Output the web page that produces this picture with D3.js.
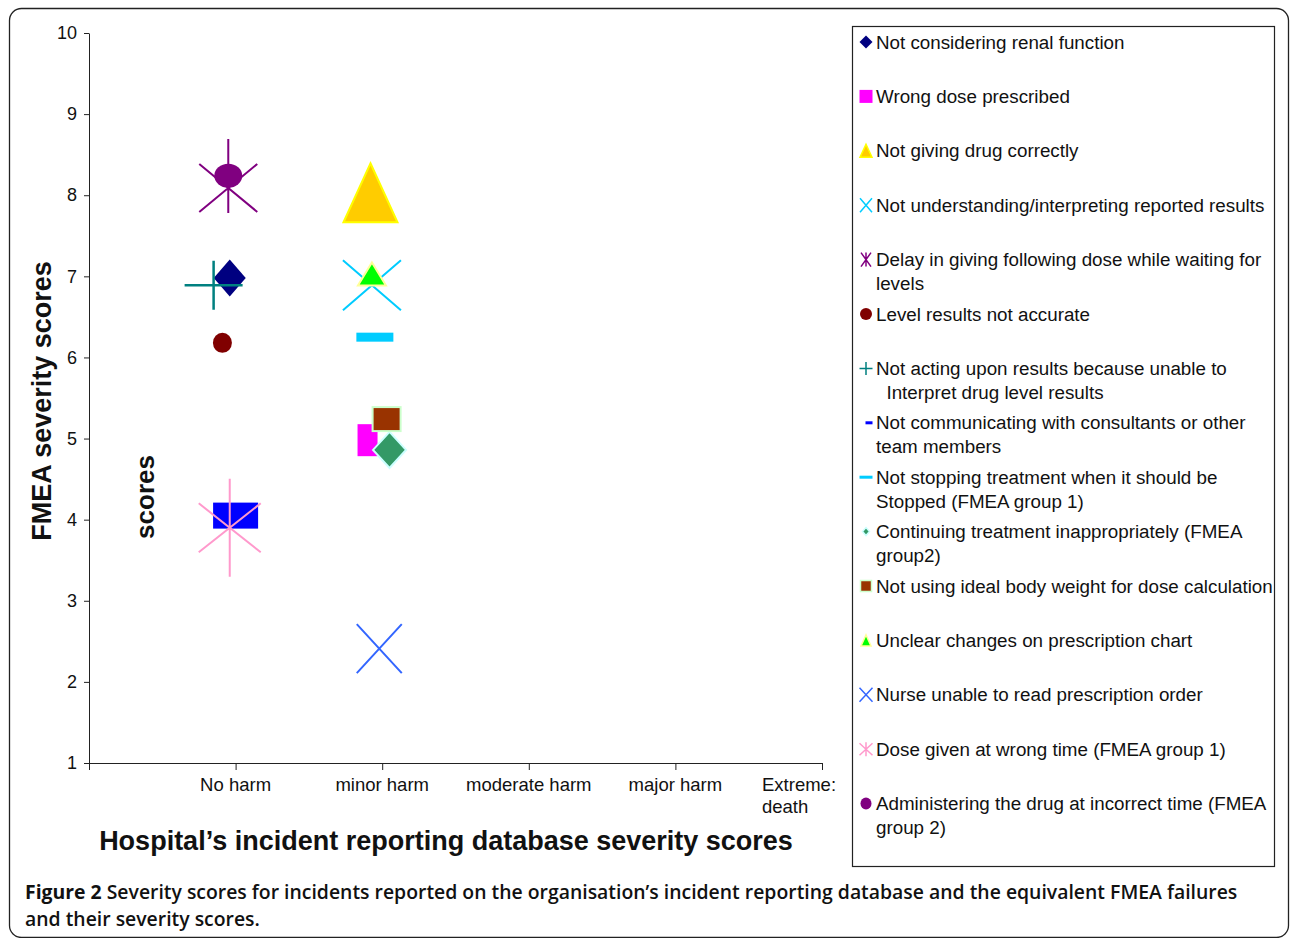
<!DOCTYPE html>
<html><head><meta charset="utf-8">
<script src="https://cdn.jsdelivr.net/npm/d3@7"></script>
<style>
html,body{margin:0;padding:0;background:#fff;}
svg{display:block;}
text{font-family:"Liberation Sans",Arial,Helvetica,sans-serif;fill:#111;}
</style></head>
<body>
<svg id="chart" width="1290" height="938"></svg>
<script>
// ---------- data ----------
const categories = ["", "No harm", "minor harm", "moderate harm", "major harm", "Extreme: death"];
const yTicks = [1, 2, 3, 4, 5, 6, 7, 8, 9, 10];
const seriesNames = [
  "Not considering renal function",
  "Wrong dose prescribed",
  "Not giving drug correctly",
  "Not understanding/interpreting reported results",
  "Delay in giving following dose while waiting for levels",
  "Level results not accurate",
  "Not acting upon results because unable to Interpret drug level results",
  "Not communicating with consultants or other team members",
  "Not stopping treatment when it should be Stopped (FMEA group 1)",
  "Continuing treatment inappropriately (FMEA group2)",
  "Not using ideal body weight for dose calculation",
  "Unclear changes on prescription chart",
  "Nurse unable to read prescription order",
  "Dose given at wrong time (FMEA group 1)",
  "Administering the drug at incorrect time (FMEA group 2)"
];
// x = position on the incident-database severity category axis, y = FMEA severity score
const seriesX = [0.96, 1.90, 1.92, 1.93, 0.95, 0.91, 0.85, 1.00, 1.95, 2.05, 2.03, 1.93, 1.98, 0.96, 0.95];
const seriesY = [6.98, 4.98, 8.03, 6.89, 8.09, 6.18, 6.89, 4.05, 6.25, 4.86, 5.24, 7.03, 2.41, 3.90, 8.24];
const legendLines = [
  ["Not considering renal function"],
  ["Wrong dose prescribed"],
  ["Not giving drug correctly"],
  ["Not understanding/interpreting reported results"],
  ["Delay in giving following dose while waiting for", "levels"],
  ["Level results not accurate"],
  ["Not acting upon results because unable to", "  Interpret drug level results"],
  ["Not communicating with consultants or other", "team members"],
  ["Not stopping treatment when it should be", "Stopped (FMEA group 1)"],
  ["Continuing treatment inappropriately (FMEA", "group2)"],
  ["Not using ideal body weight for dose calculation"],
  ["Unclear changes on prescription chart"],
  ["Nurse unable to read prescription order"],
  ["Dose given at wrong time (FMEA group 1)"],
  ["Administering the drug at incorrect time (FMEA", "group 2)"]
];

// ---------- marker styles (shape, size, colours) ----------
const styles = [
  {shape:"diamond", w:16, h:18.5, fill:"#000080", lw:6.5, lh:6.5},
  {shape:"rect", w:20, h:32, fill:"#FF00FF", lw:13, lh:13},
  {shape:"triangle", w:27, h:29.5, fill:"#FFCC00", stroke:"#FFFF00", sw:2, lw:6, lh:6.5},
  {shape:"x", w:29, h:25, stroke:"#00CCFF", sw:2, lw:6, lh:7},
  {shape:"asterisk", w:29, h:24, vt:-49, vb:25, stroke:"#800080", sw:2, lw:5, lh:7, lvt:-7, lvb:7},
  {shape:"ellipse", w:9.5, h:10, fill:"#800000", lw:6, lh:6},
  {shape:"plus", w:29, h:24.5, stroke:"#008080", sw:2.5, lw:6.5, lh:6.5},
  {shape:"rect", w:45, h:26, fill:"#0000FF", lw:7, lh:3, ldx:3},
  {shape:"rect", w:37, h:9, fill:"#00CCFF", lw:13, lh:3},
  {shape:"diamond", w:16.5, h:18, fill:"#339966", stroke:"#CCFFFF", sw:2, lw:3.5, lh:4},
  {shape:"rect", w:28, h:24, fill:"#993300", stroke:"#CCFFCC", sw:2, lw:11, lh:11},
  {shape:"triangle", w:14, h:11.5, fill:"#00FF00", stroke:"#FFFF99", sw:2, lw:5, lh:5.5},
  {shape:"x", w:22.5, h:24.5, stroke:"#3366FF", sw:2, lw:6.5, lh:7},
  {shape:"asterisk", w:31, h:24.5, vt:-49, vb:49, stroke:"#FF99CC", sw:2, lw:6.5, lh:6, lvt:-7, lvb:7},
  {shape:"ellipse", w:14, h:12, fill:"#800080", lw:5.5, lh:6}
];

function drawMarker(g, s, legend) {
  const w = legend ? s.lw : s.w, h = legend ? s.lh : s.h;
  const sw = legend ? Math.min(s.sw || 0, 1.5) : (s.sw || 0);
  if (s.shape === "diamond") {
    g.append("path").attr("d", `M0,${-h}L${w},0L0,${h}L${-w},0Z`)
      .attr("fill", s.fill).attr("stroke", s.stroke || "none").attr("stroke-width", sw);
  } else if (s.shape === "rect") {
    const dx = legend ? (s.ldx || 0) : 0;
    g.append("rect").attr("x", dx - w / 2).attr("y", -h / 2).attr("width", w).attr("height", h)
      .attr("fill", s.fill).attr("stroke", s.stroke || "none").attr("stroke-width", sw);
  } else if (s.shape === "triangle") {
    g.append("path").attr("d", `M0,${-h}L${w},${h}L${-w},${h}Z`)
      .attr("fill", s.fill).attr("stroke", s.stroke || "none").attr("stroke-width", sw).attr("stroke-linejoin", "miter");
  } else if (s.shape === "ellipse") {
    g.append("ellipse").attr("rx", w).attr("ry", h).attr("fill", s.fill);
  } else if (s.shape === "x") {
    g.append("path").attr("d", `M${-w},${-h}L${w},${h}M${w},${-h}L${-w},${h}`)
      .attr("stroke", s.stroke).attr("stroke-width", sw).attr("fill", "none");
  } else if (s.shape === "plus") {
    g.append("path").attr("d", `M${-w},0L${w},0M0,${-h}L0,${h}`)
      .attr("stroke", s.stroke).attr("stroke-width", sw).attr("fill", "none");
  } else if (s.shape === "asterisk") {
    const vt = legend ? s.lvt : s.vt, vb = legend ? s.lvb : s.vb;
    g.append("path").attr("d", `M${-w},${-h}L${w},${h}M${w},${-h}L${-w},${h}M0,${vt}L0,${vb}`)
      .attr("stroke", s.stroke).attr("stroke-width", sw).attr("fill", "none");
  }
}

const svg = d3.select("#chart");

// outer frame
svg.append("rect").attr("x", 9.5).attr("y", 8.5).attr("width", 1279).attr("height", 929)
  .attr("rx", 12).attr("fill", "none").attr("stroke", "#222").attr("stroke-width", 1.3);

// scales
const x = d3.scaleLinear().domain([0, 5]).range([89, 822]);
const y = d3.scaleLinear().domain([1, 10]).range([763, 33]);

// y axis
const gy = svg.append("g").attr("transform", `translate(${x(0)},0)`)
  .call(d3.axisLeft(y).tickValues(yTicks).tickSize(5).tickSizeOuter(0).tickPadding(7));
gy.selectAll("text").style("font-size", "18px").attr("fill", "#111");
gy.selectAll("line,path").attr("stroke", "#222");

// x axis
const gx = svg.append("g").attr("transform", `translate(0,${y(1)})`)
  .call(d3.axisBottom(x).tickValues([0, 1, 2, 3, 4, 5]).tickSize(7).tickSizeOuter(0).tickFormat(""));
gx.selectAll("line,path").attr("stroke", "#222");

// category labels
categories.forEach((c, i) => {
  if (!c) return;
  const words = c.split(" ");
  if (c.indexOf(":") >= 0) {
    const t = svg.append("text").attr("x", x(i) - 60).attr("y", 791).style("font-size", "18.5px");
    t.append("tspan").attr("x", x(i) - 60).text(words[0]);
    t.append("tspan").attr("x", x(i) - 60).attr("dy", 22).text(words.slice(1).join(" "));
  } else {
    svg.append("text").attr("x", x(i)).attr("y", 791).attr("text-anchor", "middle")
      .style("font-size", "18.5px").text(c);
  }
});

// axis titles
svg.append("text").attr("transform", `translate(51,401) rotate(-90)`).attr("text-anchor", "middle")
  .style("font-size", "27px").style("font-weight", "bold").text("FMEA severity scores");
svg.append("text").attr("transform", `translate(154,497) rotate(-90)`).attr("text-anchor", "middle")
  .style("font-size", "26px").style("font-weight", "bold").text("scores");
svg.append("text").attr("x", 446).attr("y", 850).attr("text-anchor", "middle")
  .style("font-size", "27px").style("font-weight", "bold")
  .text("Hospital\u2019s incident reporting database severity scores");

// markers
const gm = svg.append("g");
seriesNames.forEach((n, i) => {
  const g = gm.append("g").attr("transform", `translate(${x(seriesX[i])},${y(seriesY[i])})`);
  drawMarker(g, styles[i], false);
});

// legend
svg.append("rect").attr("x", 852.5).attr("y", 26.5).attr("width", 422).attr("height", 840)
  .attr("fill", "none").attr("stroke", "#222").attr("stroke-width", 1.2);
const lg = svg.append("g");
seriesNames.forEach((n, i) => {
  const cy = 42 + 54.4 * i;
  const g = lg.append("g").attr("transform", `translate(866,${cy})`);
  drawMarker(g, styles[i], true);
  const t = lg.append("text").attr("x", 876).attr("y", cy + 6.5).style("font-size", "18.8px")
    .attr("xml:space", "preserve").style("white-space", "pre");
  legendLines[i].forEach((ln, k) => {
    t.append("tspan").attr("x", 876).attr("dy", k === 0 ? 0 : 24).text(ln);
  });
});

// caption
const cap = svg.append("g");
const l1 = cap.append("text").attr("x", 25).attr("y", 899).style("font-size", "18px")
  .style("font-family", "'Open Sans','Noto Sans',sans-serif").attr("fill", "#231f20");
l1.append("tspan").style("font-weight", "bold").text("Figure 2 ");
l1.append("tspan").style("font-weight", "600")
  .text("Severity scores for incidents reported on the organisation\u2019s incident reporting database and the equivalent FMEA failures");
const l2 = cap.append("text").attr("x", 25).attr("y", 926).style("font-size", "18px")
  .style("font-family", "'Open Sans','Noto Sans',sans-serif").style("font-weight", "600")
  .text("and their severity scores.");
// fit caption font size to the reference line width
const w1 = l1.node().getComputedTextLength();
const fs = 18 * 1213 / w1;
l1.style("font-size", fs + "px");
l2.style("font-size", fs + "px");
</script>
</body></html>
